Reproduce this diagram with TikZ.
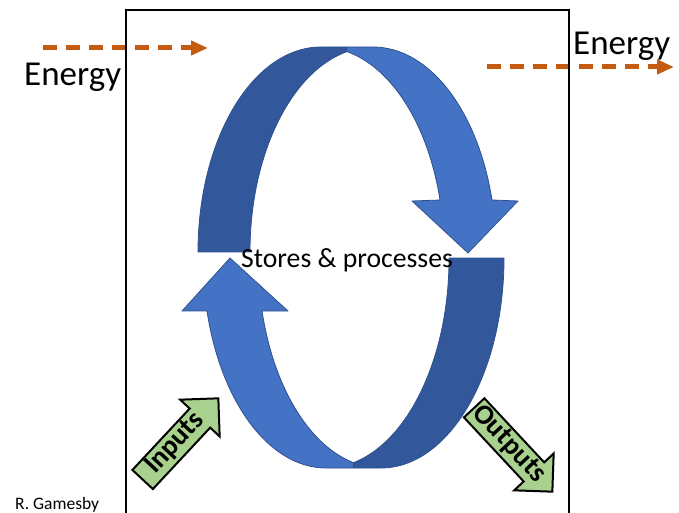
\documentclass[tikz,border=0pt]{standalone}
\usepackage{fontspec}
\setmainfont{Carlito}
\usetikzlibrary{shapes.arrows,arrows.meta}

\definecolor{energyorange}{RGB}{197,90,17}
\definecolor{loopblue}{RGB}{68,114,196}
\definecolor{loopdark}{RGB}{50,88,155}
\definecolor{loopedge}{RGB}{47,82,143}
\definecolor{flowgreen}{RGB}{169,209,142}

\begin{document}
\begin{tikzpicture}[x=1pt, y=1pt,
    energy/.style={draw=energyorange, line width=5pt, dash pattern=on 14pt off 9pt,
                   -{Triangle[length=17pt, width=14pt]}},
    band/.style={draw=loopedge, line width=0.8pt, line join=round},
    flow/.style={single arrow, draw=black, line width=2pt, fill=flowgreen,
                 single arrow tip angle=90, single arrow head extend=13pt,
                 minimum height=111pt, inner xsep=2pt, inner ysep=1pt,
                 text height=18pt, text depth=6pt,
                 font=\fontsize{28}{32}\selectfont\bfseries},
    word/.style={inner sep=0pt, font=\fontsize{35}{40}\selectfont}]
  \useasboundingbox (0,0) rectangle (679,512);

  \coordinate (ein)   at (43,464);
  \coordinate (einx)  at (208,464);
  \coordinate (eout)  at (487,445);
  \coordinate (eoutx) at (674,445);
  \draw[energy] (ein) -- (einx);
  \draw[energy] (eout) -- (eoutx);

  \draw[line width=2pt] (126,-10) rectangle (569,502);

  \filldraw[band, fill=loopdark] (198,260)
    arc[start angle=180, end angle=90, x radius=123, y radius=205]
    -- (347,465) -- (347,460.4)
    arc[start angle=102.2, end angle=180, x radius=123, y radius=205] -- cycle;
  \filldraw[band, fill=loopblue] (347,465) -- (373,465)
    arc[start angle=90, end angle=14.7, x radius=123, y radius=205]
    -- (518,311) -- (468,259) -- (412,311) -- (440,312)
    arc[start angle=14.7, end angle=77.8, x radius=123, y radius=205] -- cycle;

  \filldraw[band, fill=loopdark] (504,254)
    arc[start angle=0, end angle=-90, x radius=123, y radius=210]
    -- (353.5,44) -- (353.5,49.3)
    arc[start angle=-77.1, end angle=0, x radius=123, y radius=210] -- cycle;
  \filldraw[band, fill=loopblue] (353.5,44) -- (326,44)
    arc[start angle=-90, end angle=-165.4, x radius=123, y radius=210]
    -- (182,201) -- (230,254) -- (288,201) -- (262,201)
    arc[start angle=-165.4, end angle=-102.9, x radius=123, y radius=210] -- cycle;

  \node[word, anchor=base west] (energyin)  at (24,426)  {Energy};
  \node[word, anchor=base west] (energyout) at (573,457) {Energy};
  \node[inner sep=0pt, anchor=base, font=\fontsize{27.7}{32}\selectfont]
    (stores) at (347,245) {Stores \& processes};
  \node[inner sep=0pt, anchor=base west, font=\fontsize{17.5}{20}\selectfont]
    (author) at (15,3) {R. Gamesby};

  \node[flow, rotate=47, anchor=tip]  (inputs)  at (219.3,114.7) {Inputs};
  \node[flow, rotate=-47, anchor=tip] (outputs) at (553.3,19.3)  {Outputs};
\end{tikzpicture}
\end{document}
